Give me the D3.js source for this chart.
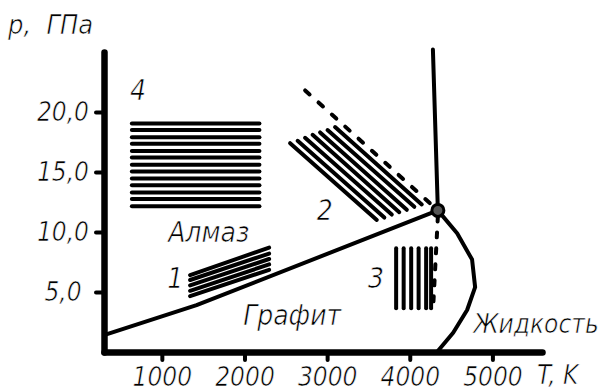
<!DOCTYPE html>
<html>
<head>
<meta charset="utf-8">
<script src="https://cdnjs.cloudflare.com/ajax/libs/d3/7.8.5/d3.min.js"></script>
<style>
    body { margin: 0; background: #fff; }
    text { font-family: 'DejaVu Sans Condensed', 'DejaVu Sans', sans-serif; font-style: oblique; fill: #000;
           stroke: #fff; stroke-width: 0.6px; }
</style>
</head>
<body>
<div class="canvas"></div>
<script>
// axis ticks
const xTicks = [1000, 2000, 3000, 4000, 5000]
const xTickLabels = ['1000', '2000', '3000', '4000', '5000']
const yTicks = [5, 10, 15, 20]
const yTickLabels = ['5,0\u00a0', '10,0', '15,0', '20,0']

// phase boundaries, points as [T, p]
const graphiteDiamond = [[300, 1.4], [1420, 3.9], [4340, 11.8]]
const diamondLiquid = [[4340, 11.8], [4280, 25.2]]
const graphiteLiquid = [[4340, 11.8], [4573, 9.9], [4754, 7.7], [4791, 5.4], [4694, 3.5], [4525, 1.6], [4330, 0]]
const dashedUpper = [[2734, 21.8], [4340, 11.8]]
const dashedLower = [[4340, 11.3], [4283, 3.75]]
const triplePoint = [4340, 11.8]

// synthesis regions, each stroke as [T1, p1, T2, p2]
const region1 = [
    [1342, 6.4, 2298, 8.7],
    [1342, 6.0, 2298, 8.2],
    [1342, 5.55, 2298, 7.75],
    [1342, 5.1, 2298, 7.3],
    [1342, 4.65, 2298, 6.85]
]
const region2 = [
    [2552, 17.4, 3601, 11.0],
    [2643, 17.6, 3692, 11.2],
    [2733, 17.85, 3782, 11.45],
    [2824, 18.1, 3873, 11.65],
    [2915, 18.3, 3964, 11.85],
    [3005, 18.5, 4055, 12.1],
    [3096, 18.75, 4145, 12.3]
]
const region3 = [
    [3835, 8.65, 3835, 3.65],
    [3926, 8.65, 3926, 3.65],
    [4017, 8.65, 4017, 3.65],
    [4107, 8.65, 4107, 3.65],
    [4198, 8.65, 4198, 3.65],
    [4258, 8.65, 4258, 3.65]
]
const region4P = [19.05, 18.5, 17.9, 17.35, 16.75, 16.2, 15.6, 15.05, 14.45, 13.9, 13.3, 12.75, 12.15]
const region4T = [637, 2181]

// text labels: [text, T, p]
const labels = [
    ['4', 616, 21.0],
    ['Алмаз', 1076, 9.2],
    ['1', 1064, 5.33],
    ['2', 2875, 11.0],
    ['3', 3496, 5.33],
    ['Графит', 1984, 2.25],
    ['Жидкость', 4770, 1.58]
]

const svg = d3.select('.canvas')
    .append('svg')
    .attr('width', 605)
    .attr('height', 392)

// scales
const x = d3.scaleLinear().domain([300, 5600]).range([104, 542])
const y = d3.scaleLinear().domain([0, 25]).range([352, 52])

const line = d3.line()
    .x(d => x(d[0]))
    .y(d => y(d[1]))

const drawPath = (pts, width, dash) => {
    const p = svg.append('path')
        .datum(pts)
        .attr('fill', 'none')
        .attr('stroke', '#000')
        .attr('stroke-width', width)
        .attr('stroke-linecap', 'round')
        .attr('stroke-linejoin', 'round')
        .attr('d', line)
    if (dash) p.attr('stroke-dasharray', dash)
}

//hatched regions
const drawSegs = (segs) => {
    svg.append('g').selectAll('line')
        .data(segs)
        .enter()
        .append('line')
            .attr('x1', d => x(d[0]))
            .attr('y1', d => y(d[1]))
            .attr('x2', d => x(d[2]))
            .attr('y2', d => y(d[3]))
            .attr('stroke', '#000')
            .attr('stroke-width', 4)
            .attr('stroke-linecap', 'round')
}
drawSegs(region1)
drawSegs(region2)
drawSegs(region3)
drawSegs(region4P.map(p => [region4T[0], p, region4T[1], p]))

// boundaries
drawPath(graphiteDiamond, 4)
drawPath(diamondLiquid, 4)
drawPath(graphiteLiquid, 4)
drawPath(dashedUpper, 4, '6,12')
drawPath(dashedLower, 4, '5,11')

svg.append('circle')
    .attr('cx', x(triplePoint[0]))
    .attr('cy', y(triplePoint[1]))
    .attr('r', 6)
    .attr('fill', '#555')
    .attr('stroke', '#000')
    .attr('stroke-width', 3)

//axis
const xAxis = d3.axisBottom(x)
    .tickValues(xTicks)
    .tickFormat((d, i) => xTickLabels[i])
    .tickSize(8)
    .tickSizeOuter(0)
    .tickPadding(8)

const yAxis = d3.axisLeft(y)
    .tickValues(yTicks)
    .tickFormat((d, i) => yTickLabels[i])
    .tickSize(8)
    .tickSizeOuter(0)
    .tickPadding(7)

const xAxisGroup = svg.append('g')
    .attr('transform', `translate(0, ${y(0)})`)
    .call(xAxis)
const yAxisGroup = svg.append('g')
    .attr('transform', `translate(${x(300)}, 0)`)
    .call(yAxis)

;[xAxisGroup, yAxisGroup].forEach(g => {
    g.select('.domain')
        .attr('stroke', '#000')
        .attr('stroke-width', 6.5)
        .attr('stroke-linecap', 'round')
    g.selectAll('.tick line')
        .attr('stroke', '#000')
        .attr('stroke-width', 4)
        .attr('stroke-linecap', 'round')
    g.selectAll('text')
        .attr('fill', '#000')
        .style('font-size', '26px')
        .style('font-family', null)
})

// labels
svg.append('g').selectAll('text')
    .data(labels)
    .enter()
    .append('text')
        .attr('x', d => x(d[1]))
        .attr('y', d => y(d[2]))
        .style('font-size', d => d[0] === 'Жидкость' ? '26px' : '28px')
        .text(d => d[0])

svg.append('text')
    .attr('x', 8)
    .attr('y', 34)
    .style('font-size', '27px')
    .text('p,\u00a0\u00a0ГПа')

svg.append('text')
    .attr('x', 537)
    .attr('y', 384)
    .style('font-size', '26px')
    .text('T,\u00a0K')
</script>
</body>
</html>
